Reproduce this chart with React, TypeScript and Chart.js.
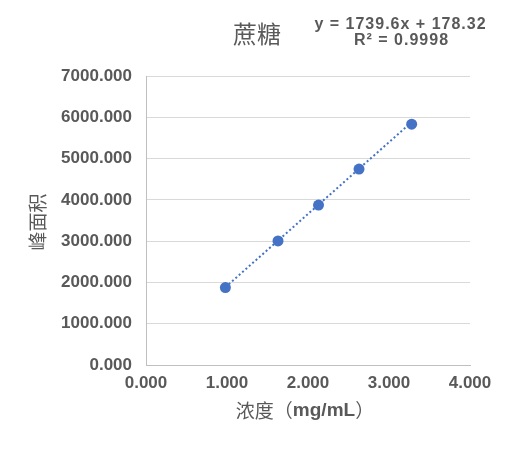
import React, { useEffect, useRef } from "react";
import { Chart, registerables } from "chart.js";

Chart.register(...registerables);

const chartTitle = "蔗糖";
const xAxisTitle = ["浓度（", "mg/mL", "）"];
const yAxisTitle = "峰面积";
const equationLines = ["y = 1739.6x + 178.32", "R² = 0.9998"];

const concentrations = [0.98, 1.63, 2.13, 2.63, 3.28];
const peakAreas = [1876, 3005, 3875, 4745, 5833];
const trendSlope = 1739.6;
const trendIntercept = 178.32;

const xTicks = [0, 1, 2, 3, 4];
const yTicks = [0, 1000, 2000, 3000, 4000, 5000, 6000, 7000];

const GRAY = "#595959";
const BLUE = "#4472c4";
const CJK = '"Noto Sans CJK SC", "Noto Sans", sans-serif';
const LAT = '"Liberation Sans", Arial, sans-serif';

const textPlugin = {
  id: "textPlugin",
  afterDraw(chart: any) {
    const ctx = chart.ctx as CanvasRenderingContext2D;
    const area = chart.chartArea;
    ctx.save();
    ctx.fillStyle = GRAY;
    ctx.textBaseline = "middle";
    // title
    ctx.font = `24px ${CJK}`;
    ctx.textAlign = "center";
    ctx.fillText(chartTitle, 257, 34);
    // equation
    ctx.font = `bold 16px ${LAT}`;
    ctx.textAlign = "left";
    (ctx as any).letterSpacing = "1px";
    const drawCentered = (s: string, cx: number, cy: number) => {
      const w = ctx.measureText(s).width - 1;
      ctx.fillText(s, cx - w / 2, cy);
    };
    drawCentered(equationLines[0], 400, 25);
    drawCentered(equationLines[1], 401, 41);
    (ctx as any).letterSpacing = "0px";
    ctx.textAlign = "center";
    // y title
    ctx.save();
    ctx.translate(38, 222);
    ctx.rotate(-Math.PI / 2);
    ctx.font = `19px ${CJK}`;
    ctx.fillText(yAxisTitle, 0, 0);
    ctx.restore();
    // x title (mixed fonts)
    const fonts = [`19px ${CJK}`, `bold 19px ${LAT}`, `19px ${CJK}`];
    let total = 0;
    const widths = xAxisTitle.map((s, i) => {
      ctx.font = fonts[i];
      const w = ctx.measureText(s).width;
      total += w;
      return w;
    });
    let x = (area.left + area.right) / 2 - total / 2 - 3;
    ctx.textAlign = "left";
    xAxisTitle.forEach((s, i) => {
      ctx.font = fonts[i];
      ctx.fillText(s, x, 411);
      x += widths[i];
    });
    ctx.restore();
  },
};

export default function App() {
  const ref = useRef<HTMLCanvasElement>(null);
  useEffect(() => {
    if (!ref.current) return;
    const minX = Math.min(...concentrations);
    const maxX = Math.max(...concentrations);
    const chart = new Chart(ref.current, {
      type: "scatter",
      data: {
        datasets: [
          {
            label: "trend",
            data: [
              { x: minX, y: trendSlope * minX + trendIntercept },
              { x: maxX, y: trendSlope * maxX + trendIntercept },
            ],
            showLine: true,
            borderColor: BLUE,
            borderWidth: 2,
            borderDash: [2, 2.5],
            pointRadius: 0,
            fill: false,
          },
          {
            label: "data",
            data: concentrations.map((c, i) => ({ x: c, y: peakAreas[i] })),
            backgroundColor: BLUE,
            borderColor: BLUE,
            pointRadius: 5.5,
            pointBorderWidth: 0,
          },
        ],
      },
      options: {
        responsive: false,
        animation: false,
        layout: { padding: { top: 76, right: 46, bottom: 0, left: 0 } },
        plugins: { legend: { display: false }, tooltip: { enabled: false }, title: { display: false } },
        scales: {
          x: {
            type: "linear",
            min: xTicks[0],
            max: xTicks[xTicks.length - 1],
            afterBuildTicks: (s: any) => { s.ticks = xTicks.map((v) => ({ value: v })); },
            afterFit: (s: any) => { s.height = 85; },
            grid: { display: false, drawTicks: false },
            border: { display: true, color: "#bfbfbf", width: 1 },
            ticks: {
              padding: 8,
              color: GRAY,
              font: { family: LAT, size: 17, weight: "bold" },
              callback: (v: any) => Number(v).toFixed(3),
              maxRotation: 0,
            },
          },
          y: {
            type: "linear",
            min: yTicks[0],
            max: yTicks[yTicks.length - 1],
            afterBuildTicks: (s: any) => { s.ticks = yTicks.map((v) => ({ value: v })); },
            afterFit: (s: any) => { s.width = 146; },
            grid: { color: "#d9d9d9", lineWidth: 1, drawTicks: false },
            border: { display: true, color: "#bfbfbf", width: 1 },
            ticks: {
              padding: 14,
              color: GRAY,
              font: { family: LAT, size: 17, weight: "bold" },
              callback: (v: any) => Number(v).toFixed(3),
            },
          },
        },
      },
      plugins: [textPlugin],
    });
    return () => chart.destroy();
  }, []);
  return (
    <div style={{ position: "fixed", left: 0, top: 0, width: 516, height: 450, background: "#fff" }}>
      <canvas ref={ref} width={516} height={450} />
    </div>
  );
}
